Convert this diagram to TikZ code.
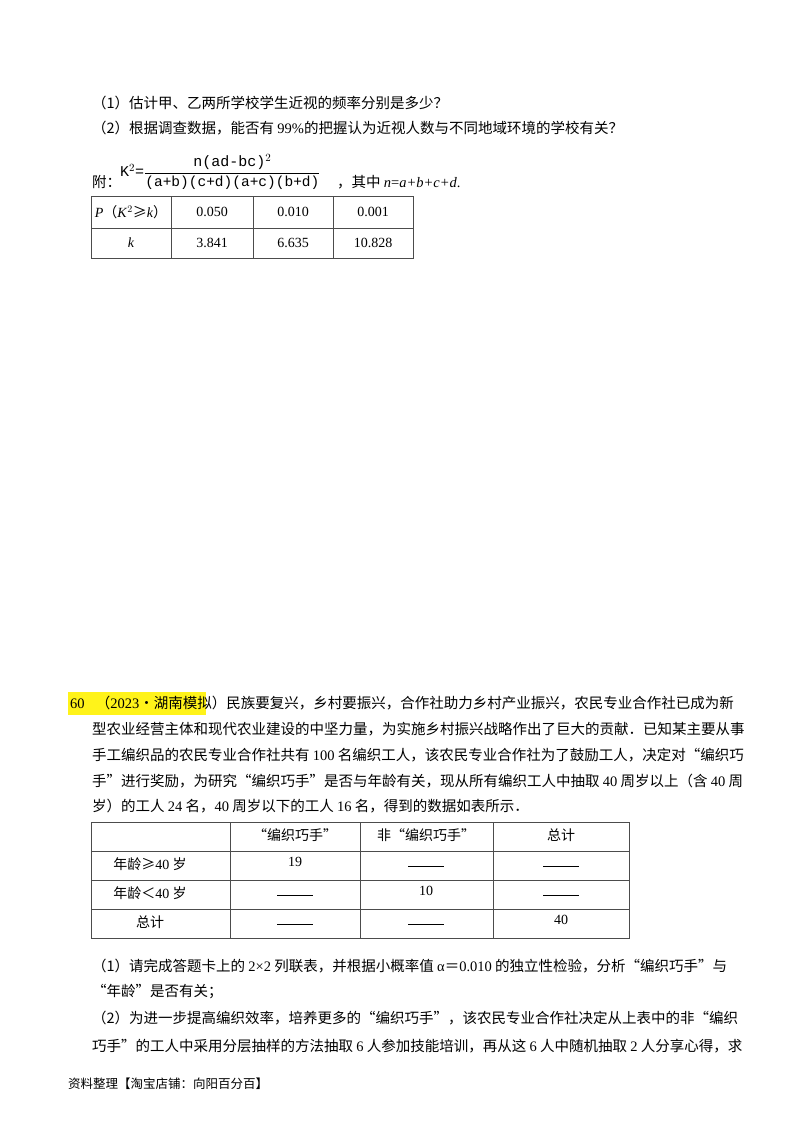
\documentclass[tikz,border=0pt]{standalone}
\usepackage{fontspec}
\setmainfont{Liberation Serif}
\newfontfamily\cjk{Noto Sans CJK SC}
\newfontfamily\monof{Liberation Mono}
\begin{document}
\begin{tikzpicture}[x=1pt,y=-1pt,
  txt/.style={anchor=west,inner sep=0pt,font=\fontsize{14.5}{17}\selectfont\cjk},
  cell/.style={inner sep=0pt,font=\fontsize{14}{17}\selectfont},
  ccell/.style={inner sep=0pt,font=\fontsize{14}{17}\selectfont\cjk},
  grid/.style={draw=black!70,line width=0.6pt}]
\useasboundingbox[fill=white] (0,0) rectangle (800,1132);
\node[txt] (l1) at (92,103) {（1）估计甲、乙两所学校学生近视的频率分别是多少？};
\node[txt] (l2) at (92,128) {（2）根据调查数据，能否有 {\rmfamily 99\%}的把握认为近视人数与不同地域环境的学校有关？};
\node[txt] (fu) at (92,182) {附：};
\node[anchor=west,inner sep=0pt,font=\fontsize{15}{17}\monof] (f) at (120,172)
  {K$^{2}$=$\displaystyle{\hbox{\monof n(ad-bc)$^{2}$}\over\hbox{\fontsize{14.5}{17}\monof (a+b)(c+d)(a+c)(b+d)}}$};
\node[txt] (f2) at (337,182) {，其中 {\rmfamily\itshape n}{\rmfamily =\itshape a+b+c+d}{\rmfamily .}};
% table 1
\draw[grid] (91,196) rectangle (413,258);
\draw[grid] (91,228) -- (413,228);
\foreach \x in {171,253,333} \draw[grid] (\x,196) -- (\x,258);
\node[cell] (t11) at (131,212) {\textit{P}{\cjk（}\textit{K}$^2${\cjk ≥}\textit{k}{\cjk ）}};
\node[cell] (t12) at (212,212) {0.050};
\node[cell] (t13) at (293,212) {0.010};
\node[cell] (t14) at (373,212) {0.001};
\node[cell] (t21) at (131,243) {\textit{k}};
\node[cell] (t22) at (212,243) {3.841};
\node[cell] (t23) at (293,243) {6.635};
\node[cell] (t24) at (373,243) {10.828};
% problem 60
\fill[yellow!90!white] (68,692) rectangle (206,715);
\node[txt] (p1) at (70,703) {{\rmfamily 60．}（{\rmfamily 2023}•湖南模拟）民族要复兴，乡村要振兴，合作社助力乡村产业振兴，农民专业合作社已成为新};
\node[txt] (p2) at (92,729) {型农业经营主体和现代农业建设的中坚力量，为实施乡村振兴战略作出了巨大的贡献．已知某主要从事};
\node[txt] (p3) at (92,755) {手工编织品的农民专业合作社共有 {\rmfamily 100} 名编织工人，该农民专业合作社为了鼓励工人，决定对“编织巧};
\node[txt] (p4) at (92,781) {手”进行奖励，为研究“编织巧手”是否与年龄有关，现从所有编织工人中抽取 {\rmfamily 40} 周岁以上（含 {\rmfamily 40} 周};
\node[txt] (p5) at (92,806) {岁）的工人 {\rmfamily 24} 名，{\rmfamily 40} 周岁以下的工人 {\rmfamily 16} 名，得到的数据如表所示．};
% table 2
\draw[grid] (91,822) rectangle (629,938);
\foreach \y in {851,880,909} \draw[grid] (91,\y) -- (629,\y);
\foreach \x in {230,360,493} \draw[grid] (\x,822) -- (\x,938);
\node[ccell] (a1) at (295,835) {“编织巧手”};
\node[ccell] (a2) at (426,835) {非“编织巧手”};
\node[ccell] (a3) at (561,835) {总计};
\node[ccell] (b0) at (150,864) {年龄≥{\rmfamily 40} 岁};
\node[cell] (b1) at (295,862) {19};
\node[cell] (b2) at (426,866) {\underline{\hspace{36pt}}};
\node[cell] (b3) at (561,866) {\underline{\hspace{36pt}}};
\node[ccell] (c0) at (150,893) {年龄＜{\rmfamily 40} 岁};
\node[cell] (c1) at (295,895) {\underline{\hspace{36pt}}};
\node[cell] (c2) at (426,891) {10};
\node[cell] (c3) at (561,895) {\underline{\hspace{36pt}}};
\node[ccell] (d0) at (150,922) {总计};
\node[cell] (d1) at (295,924) {\underline{\hspace{36pt}}};
\node[cell] (d2) at (426,924) {\underline{\hspace{36pt}}};
\node[cell] (d3) at (561,920) {40};
\node[txt] (q1) at (92,966) {（1）请完成答题卡上的 {\rmfamily 2×2} 列联表，并根据小概率值 {\rmfamily α}＝{\rmfamily 0.010} 的独立性检验，分析“编织巧手”与};
\node[txt] (q2) at (92,992) {“年龄”是否有关；};
\node[txt] (q3) at (92,1018) {（2）为进一步提高编织效率，培养更多的“编织巧手”，该农民专业合作社决定从上表中的非“编织};
\node[txt] (q4) at (92,1046) {巧手”的工人中采用分层抽样的方法抽取 {\rmfamily 6} 人参加技能培训，再从这 {\rmfamily 6} 人中随机抽取 {\rmfamily 2} 人分享心得，求};
\node[txt,font=\fontsize{12.5}{15}\selectfont\cjk] (ft) at (68,1084) {资料整理【淘宝店铺：向阳百分百】};
\end{tikzpicture}
\end{document}
